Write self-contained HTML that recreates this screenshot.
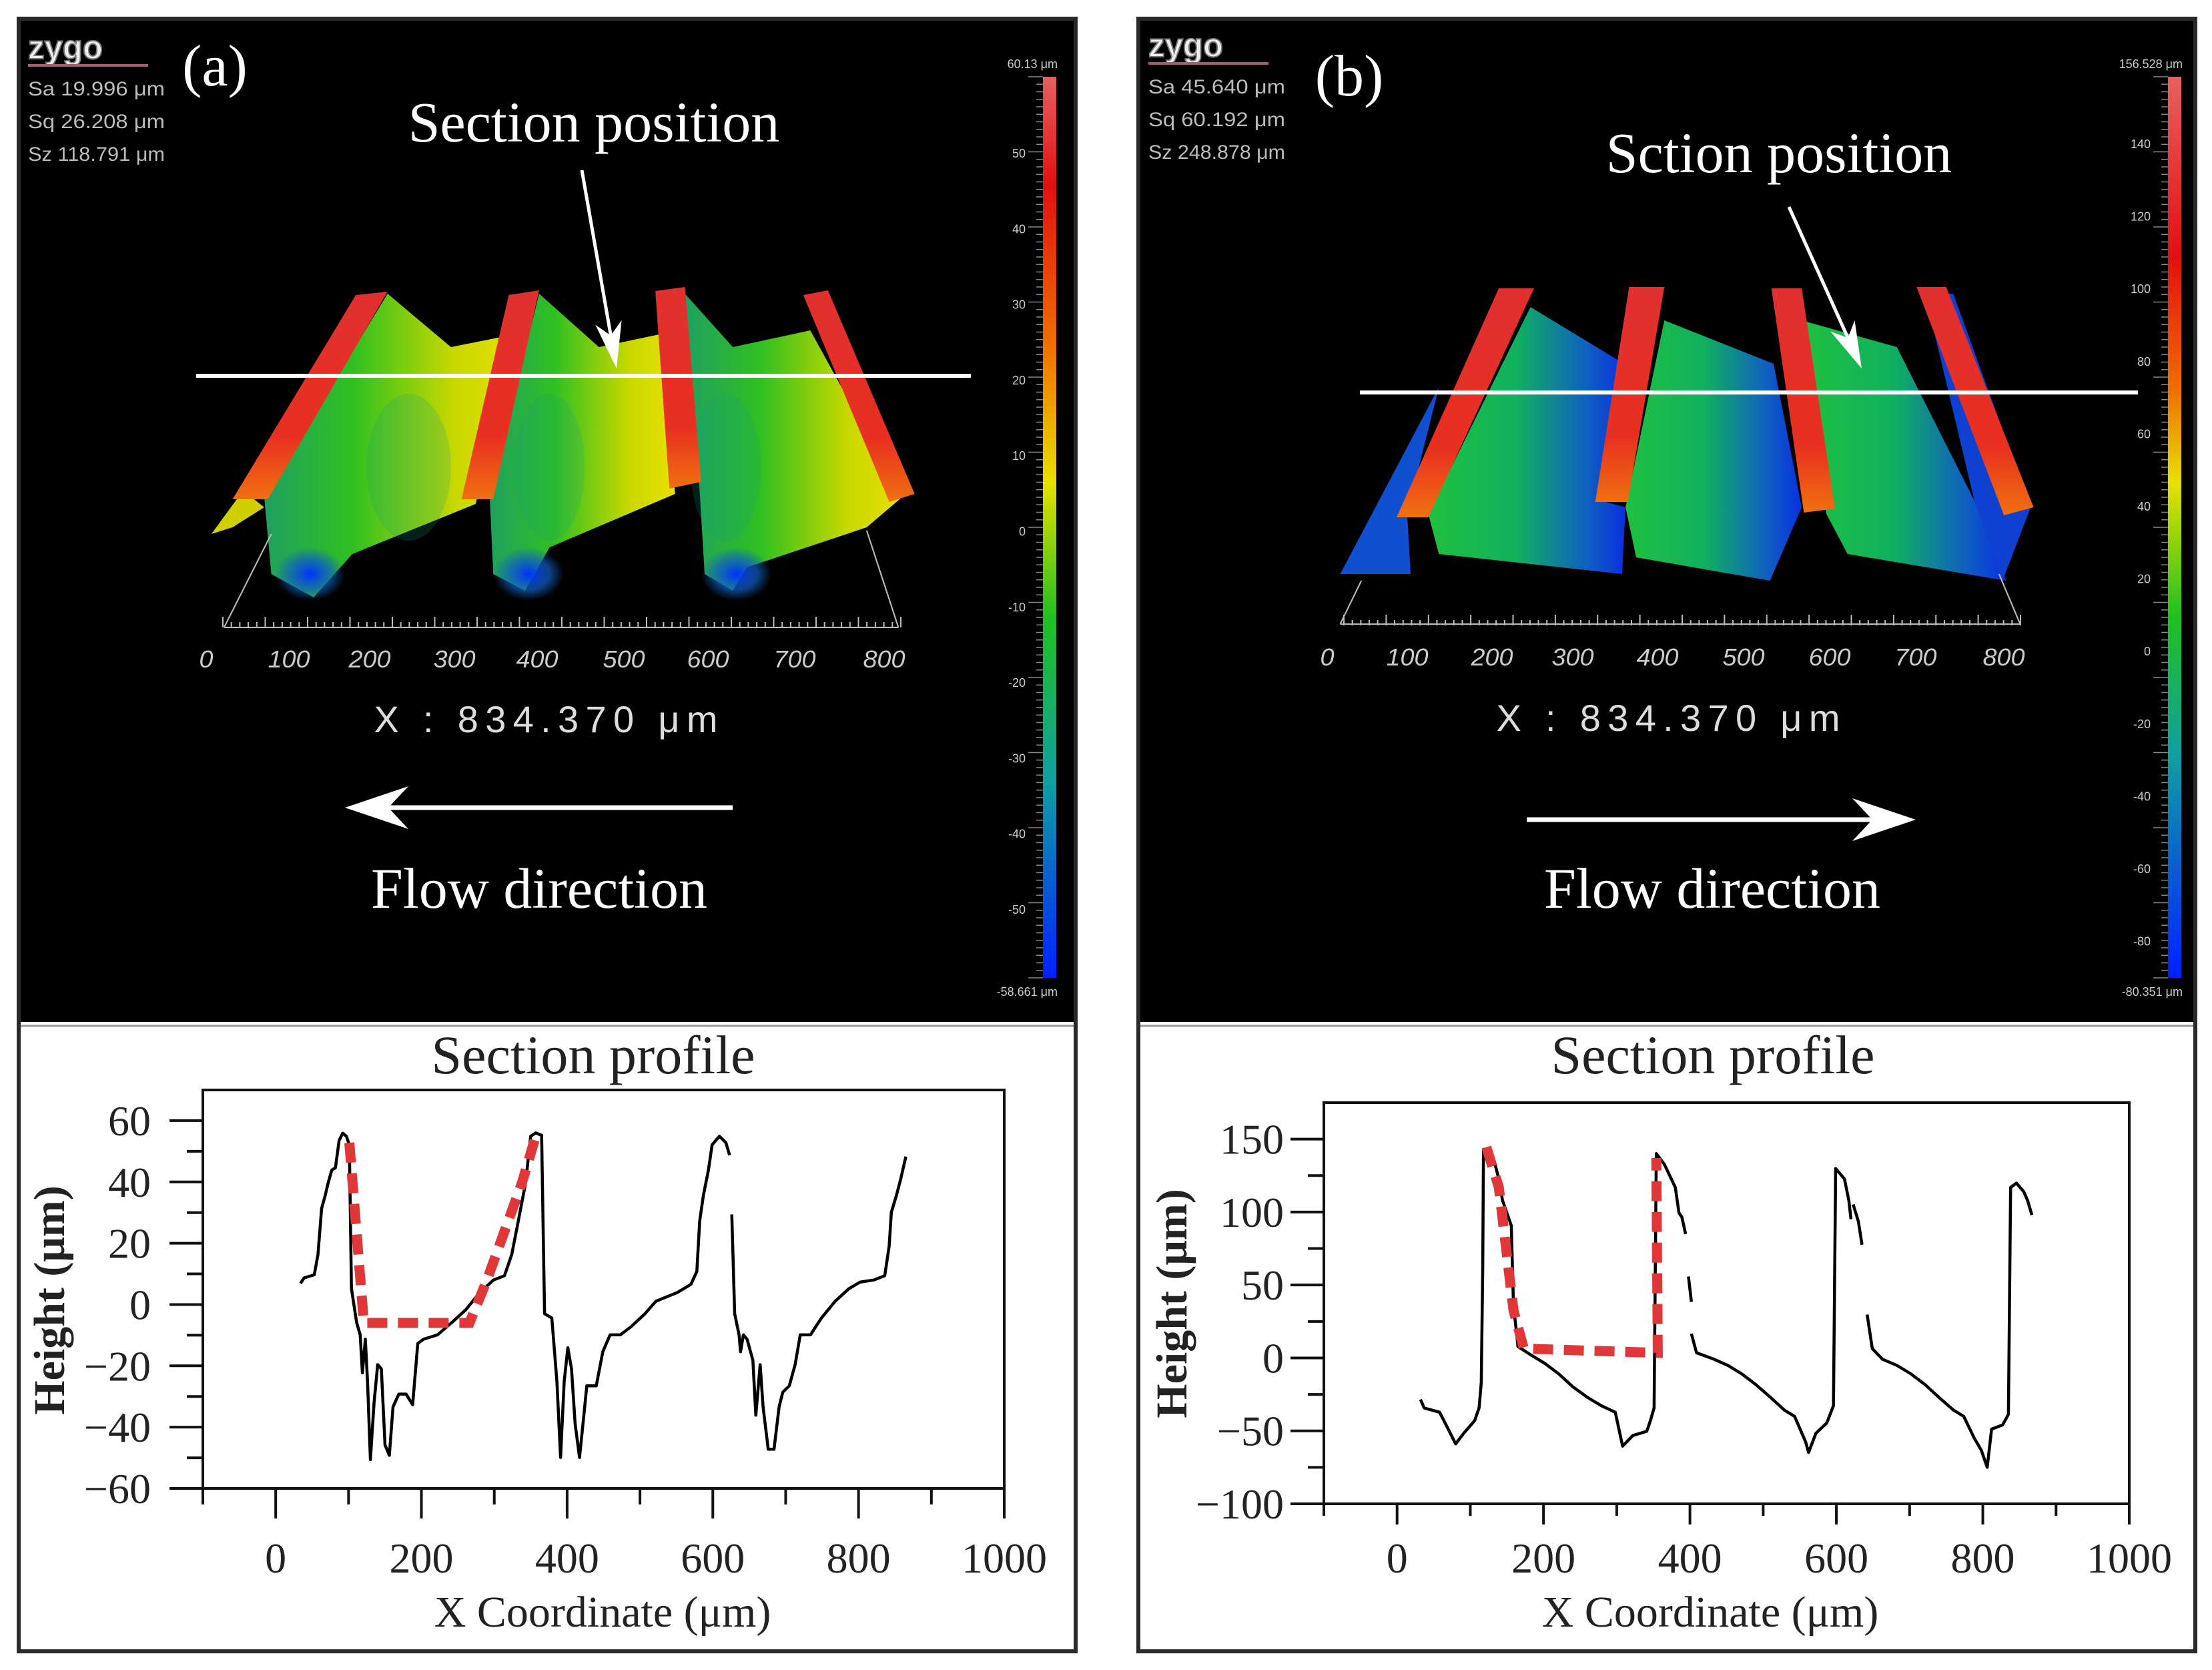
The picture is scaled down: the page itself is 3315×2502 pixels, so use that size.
<!DOCTYPE html>
<html><head><meta charset="utf-8"><style>
html,body{margin:0;padding:0;background:#fff}
svg{display:block}
.serif{font-family:"Liberation Serif",serif}
.sans{font-family:"Liberation Sans",sans-serif}
</style></head><body>
<svg id="fig" xmlns="http://www.w3.org/2000/svg" width="3315" height="2502" viewBox="0 0 3315 2502">
<defs>
<linearGradient id="cbA" x1="0" y1="0" x2="0" y2="1">
<stop offset="0" stop-color="#e86060"/><stop offset="0.12" stop-color="#e01010"/><stop offset="0.3" stop-color="#f07000"/><stop offset="0.45" stop-color="#e8e000"/><stop offset="0.6" stop-color="#20c020"/><stop offset="0.78" stop-color="#10a0a0"/><stop offset="1" stop-color="#0020ff"/></linearGradient>
<linearGradient id="cbB" x1="0" y1="0" x2="0" y2="1">
<stop offset="0" stop-color="#e86060"/><stop offset="0.2" stop-color="#e01010"/><stop offset="0.35" stop-color="#f07000"/><stop offset="0.45" stop-color="#e8e000"/><stop offset="0.6" stop-color="#20c020"/><stop offset="0.75" stop-color="#10a0a0"/><stop offset="1" stop-color="#0020ff"/></linearGradient>
<linearGradient id="segA" x1="0" y1="0" x2="1" y2="0">
<stop offset="0" stop-color="#20a060"/><stop offset="0.35" stop-color="#30c020"/><stop offset="0.75" stop-color="#c8d800"/><stop offset="1" stop-color="#e8e000"/></linearGradient>
<linearGradient id="segB" x1="0" y1="0" x2="1" y2="0">
<stop offset="0" stop-color="#20c040"/><stop offset="0.45" stop-color="#10b060"/><stop offset="0.8" stop-color="#1060c0"/><stop offset="1" stop-color="#0830e0"/></linearGradient>
<linearGradient id="ridge" x1="0" y1="0" x2="0" y2="1">
<stop offset="0" stop-color="#e03030"/><stop offset="0.7" stop-color="#e83020"/><stop offset="1" stop-color="#f07010"/></linearGradient>
<radialGradient id="blueBlob"><stop offset="0" stop-color="#0030ff"/><stop offset="0.6" stop-color="#1060c0" stop-opacity="0.7"/><stop offset="1" stop-color="#1060c0" stop-opacity="0"/></radialGradient>
</defs>

<rect x="28" y="28" width="1584" height="2446" fill="#fff" stroke="#2a2a2a" stroke-width="6"/>
<rect x="1706" y="28" width="1584" height="2446" fill="#fff" stroke="#2a2a2a" stroke-width="6"/>
<rect x="31" y="31" width="1578" height="1500" fill="#000"/>
<rect x="1709" y="31" width="1578" height="1500" fill="#000"/>
<line x1="31" y1="1537" x2="1609" y2="1537" stroke="#999" stroke-width="3"/>
<line x1="1709" y1="1537" x2="3287" y2="1537" stroke="#999" stroke-width="3"/>

<!-- Surface A -->
<g transform="scale(1.056,1)">
<polygon points="300,800 345,735 375,760 330,790" fill="#d0d000"/>
<polygon points="550,440 640,520 735,500 675,755 500,830 445,895 385,860 375,745" fill="url(#segA)"/>
<polygon points="765,440 850,520 940,500 958,740 780,820 745,885 700,860 695,745" fill="url(#segA)"/>
<polygon points="972,440 1040,520 1150,495 1280,745 1230,790 1060,850 1040,885 1000,860 992,720" fill="url(#segA)"/>
<ellipse cx="440" cy="860" rx="50" ry="40" fill="url(#blueBlob)"/>
<ellipse cx="750" cy="860" rx="50" ry="40" fill="url(#blueBlob)"/>
<ellipse cx="1045" cy="860" rx="50" ry="40" fill="url(#blueBlob)"/>
<ellipse cx="580" cy="700" rx="60" ry="110" fill="#10a080" opacity="0.2"/>
<ellipse cx="780" cy="700" rx="50" ry="110" fill="#10a080" opacity="0.2"/>
<ellipse cx="1030" cy="700" rx="50" ry="110" fill="#10a080" opacity="0.2"/>
<polygon points="505,442 550,437 380,748 330,748" fill="url(#ridge)"/>
<polygon points="722,442 765,435 700,748 655,748" fill="url(#ridge)"/>
<polygon points="930,436 972,430 995,722 950,732" fill="url(#ridge)"/>
<polygon points="1140,442 1175,435 1298,740 1262,752" fill="url(#ridge)"/>
<line x1="318" y1="940" x2="1275" y2="940" stroke="#bbb" stroke-width="2"/>
<line x1="1230" y1="795" x2="1275" y2="940" stroke="#bbb" stroke-width="2"/>
<line x1="318" y1="940" x2="385" y2="800" stroke="#bbb" stroke-width="2"/>
</g>
<!-- Surface B -->
<g transform="translate(1660,0) scale(1.056,1)">
<polygon points="470,580 330,860 430,860 425,770" fill="#1050d0"/>
<polygon points="600,460 725,540 700,750 735,760 730,860 470,830 455,770" fill="url(#segB)"/>
<polygon points="790,480 945,545 985,760 940,870 750,835 735,760" fill="url(#segB)"/>
<polygon points="985,480 1120,520 1230,750 1275,870 1050,830 1020,770" fill="url(#segB)"/>
<polygon points="1160,440 1200,440 1310,760 1270,870 1230,750" fill="#1040d0"/>
<polygon points="555,432 605,432 455,775 410,775" fill="url(#ridge)"/>
<polygon points="740,430 790,430 738,752 692,752" fill="url(#ridge)"/>
<polygon points="942,432 985,432 1032,762 988,768" fill="url(#ridge)"/>
<polygon points="1148,430 1190,430 1314,760 1272,772" fill="url(#ridge)"/>
<line x1="330" y1="935" x2="1295" y2="935" stroke="#bbb" stroke-width="2"/>
<line x1="1265" y1="860" x2="1295" y2="935" stroke="#bbb" stroke-width="2"/>
<line x1="330" y1="935" x2="360" y2="870" stroke="#bbb" stroke-width="2"/>
</g>

<g id="top-texts"></g>
<g id="plotA"></g>
<g id="plotB"></g>
</svg>
<script>
const NS = "http://www.w3.org/2000/svg";
const svg = document.getElementById('fig');
function mk(tag, attrs, parent, txt){
  const e = document.createElementNS(NS, tag);
  for (const k in attrs) e.setAttribute(k, attrs[k]);
  if (txt !== undefined) e.textContent = txt;
  (parent || svg).appendChild(e);
  return e;
}
// ---------- Data ----------
const topAxisLabels = ["0","100","200","300","400","500","600","700","800"];
const cbTicksA = [50,40,30,20,10,0,-10,-20,-30,-40,-50];
const cbTicksB = [140,120,100,80,60,40,20,0,-20,-40,-60,-80];
const statsA = ["Sa 19.996  \u03bcm","Sq 26.208  \u03bcm","Sz 118.791 \u03bcm"];
const statsB = ["Sa 45.640  \u03bcm","Sq 60.192  \u03bcm","Sz 248.878 \u03bcm"];

const xTicks = [0,200,400,600,800,1000];
const yTicksA = [60,40,20,0,-20,-40,-60];
const yTicksB = [150,100,50,0,-50,-100];

const profileAX = [34,39,53,58,63,68,72,77,82,87,92,97,101,104,111,116,119,123,126,130,135,140,145,150,156,161,169,179,188,195,203,222,242,261,280,299,314,324,333,343,350,357,365,369,379,386,391,396,401,406,411,417,423,427,440,449,459,473,488,507,522,551,570,578,582,587,594,599,609,618,623,null,626,630,636,638,642,647,655,659,665,669,676,684,691,696,705,713,720,734,749,768,787,802,821,836,842,845,852,858,865];
const profileAY = [6.9,8.7,9.7,16.3,31.4,35.6,39.7,43.9,44.6,53.5,55.9,54.9,52.1,5.2,-5.8,-9.9,-22.3,-11.3,-25.1,-50.6,-32,-19.6,-21,-45.8,-49.2,-33.4,-29.2,-29.2,-32.7,-12.7,-11.3,-9.9,-5.8,-1.7,3.9,8,9.4,16.3,27.3,39.7,54.9,56,55.2,-3,-4.4,-25.1,-49.9,-25.1,-14.1,-21,-38.9,-49.9,-36.1,-26.5,-26.5,-15.4,-9.9,-9.9,-7.2,-3,1.1,3.9,6.6,10.8,27.3,35.6,43.9,52.1,54.9,52.8,48.7,null,29.4,-3,-9.9,-15.4,-9.9,-11.3,-18.2,-36.1,-19.6,-33.4,-47.2,-47.2,-33.4,-28.6,-26.5,-19.6,-9.9,-9.9,-4.4,1.1,5.2,7.3,8,9.4,19,30.1,35.6,41.1,48.3];
const guideAX = [101,121,266,290,338,357];
const guideAY = [52.8,-6,-6,8,39.7,55];

const profileBX = [32,37,58,67,80,91,106,112,115,117,118,125,133,139,144,152,156,159,163,165,183,202,221,240,260,279,298,308,322,341,346,351,354,365,380,385,389,394,null,398,402,null,402,409,433,452,471,490,510,529,543,558,562,572,587,596,599,611,617,620,null,623,630,635,null,642,649,663,683,702,721,740,760,774,788,798,806,812,827,835,838,846,856,861,867];
const profileBY = [-28.5,-34.3,-37.2,-45.9,-58.9,-51.7,-43,-34.3,-16.9,61.6,143,141.6,134.3,122.7,108.1,96.5,90.7,35.5,18,7.8,2,-3.8,-11,-19.8,-27,-32.8,-37.2,-60.5,-53.2,-50.3,-43,-34.3,140.1,132.8,116.9,99.4,96.5,84.9,null,55.8,38.4,null,16.6,3.5,-0.9,-5.2,-11,-18.3,-27,-35.8,-40.1,-57.6,-64.8,-51.7,-44.5,-32.8,129.9,122.7,108.1,95.1,null,105.2,93.6,77.6,null,29.7,6.4,-0.9,-5.2,-11,-18.3,-27,-35.8,-40.1,-54.7,-63.4,-75,-48.8,-45.9,-38.7,116.9,119.8,113.9,108.1,98];
const guideBX = [122,139,159,173,356,354];
const guideBY = [144.5,117,32.6,6.4,3.5,137];

// ---------- Top panel texts ----------
const tt = document.getElementById('top-texts');
function topPanel(ox, cfg){
  const g = mk('g', {}, tt);
  
  
  const tx = ox + cfg.tx;
  let t = mk('text', {x: tx, y: cfg.logoY, fill:'#eee', stroke:'#777', 'stroke-width':2, 'font-size':50, 'font-weight':'bold', class:'sans', textLength:112, lengthAdjust:'spacingAndGlyphs'}, g, 'zygo');
   
  mk('line', {x1: tx, y1: cfg.logoY+10, x2: tx+180, y2: cfg.logoY+10, stroke:'#a06070', 'stroke-width':4}, g);
  cfg.stats.forEach((s, i) => {
    const e = mk('text', {x: tx, y: cfg.statY + i*49, fill:'#bbb', 'font-size':30, class:'sans', textLength:205, lengthAdjust:'spacingAndGlyphs'}, g, s);
     
  });
  t = mk('text', {x: cfg.labelX, y: cfg.labelY, fill:'#fff', 'font-size':88, class:'serif', 'text-anchor':'middle'}, g, cfg.label);
   
  t = mk('text', {x: cfg.secX, y: cfg.secY, fill:'#fff', 'font-size':86, class:'serif', 'text-anchor':'middle'}, g, cfg.secText);
   
  const a = cfg.secArrow;
  const dx = a[2]-a[0], dy = a[3]-a[1], L = Math.hypot(dx,dy), ux = dx/L, uy = dy/L;
  mk('line', {x1:a[0], y1:a[1], x2:a[2]-ux*40, y2:a[3]-uy*40, stroke:'#fff', 'stroke-width':5}, g);
  const ar = mk('polygon', {points: `${a[2]},${a[3]} ${a[2]-ux*70-uy*20},${a[3]-uy*70+ux*20} ${a[2]-ux*50},${a[3]-uy*50} ${a[2]-ux*70+uy*20},${a[3]-uy*70-ux*20}`, fill:'#fff'}, g);
   
  const sl = mk('line', {x1:cfg.line[0], y1:cfg.line[2], x2:cfg.line[1], y2:cfg.line[2], stroke:'#fff', 'stroke-width':6}, g);
   
  topAxisLabels.forEach((s, i) => {
    const e = mk('text', {x: cfg.axX[i], y: cfg.axY, fill:'#ccc', 'font-size':36, 'font-style':'italic', class:'sans', 'text-anchor':'middle', textLength: s.length*21, lengthAdjust:'spacingAndGlyphs'}, g, s);
     
  });
  for (let k = 0; k <= 80; k++) {
    const x = cfg.axX[0] + 25 + (cfg.axX[8]-cfg.axX[0])*k/80;
    mk('line', {x1:x, y1:cfg.axY-60, x2:x, y2:cfg.axY-60+(k%5===0?-16:-8), stroke:'#bbb', 'stroke-width':2}, g);
  }
  t = mk('text', {x: cfg.xLab[0], y: cfg.xLab[1], fill:'#ddd', 'font-size':56, class:'sans', 'text-anchor':'middle', textLength:515, lengthAdjust:'spacing'}, g, 'X : 834.370 \u03bcm');
   
  const f = cfg.flow; const dir = Math.sign(f[1]-f[0]);
  mk('line', {x1:f[0], y1:f[2], x2:f[1]-dir*60, y2:f[2], stroke:'#fff', 'stroke-width':7}, g);
  const fa = mk('polygon', {points:`${f[1]},${f[2]} ${f[1]-dir*95},${f[2]-32} ${f[1]-dir*65},${f[2]} ${f[1]-dir*95},${f[2]+32}`, fill:'#fff'}, g);
   
  t = mk('text', {x: cfg.flowLab[0], y: cfg.flowLab[1], fill:'#fff', 'font-size':86, class:'serif', 'text-anchor':'middle'}, g, 'Flow direction');
   
  const cb = mk('rect', {x: cfg.cbX, y: 115, width: 20, height: 1350, fill: cfg.cbFill}, g);
   
  for (let k = 0; k <= 120; k++) mk('line', {x1:cfg.cbX-(k%10===0?22:10), y1:115+k*11.25, x2:cfg.cbX, y2:115+k*11.25, stroke:'#888', 'stroke-width':1.5}, g);
  cfg.cbTicks.forEach((v, i) => {
    const y = cfg.cbY0 + i*cfg.cbStep;
    const e = mk('text', {x: cfg.cbX-26, y: y+6, fill:'#ccc', 'font-size':18, class:'sans', 'text-anchor':'end'}, g, String(v));
     
  });
  mk('text', {x: cfg.cbX+22, y: 102, fill:'#ccc', 'font-size':18, class:'sans', 'text-anchor':'end'}, g, cfg.cbTop);
  mk('text', {x: cfg.cbX+22, y: 1492, fill:'#ccc', 'font-size':18, class:'sans', 'text-anchor':'end'}, g, cfg.cbBot);
}
topPanel(0, {name:'panel-a-header', tx:42, logoY:88, stats:statsA, statY:143, label:'(a)', labelX:322, labelY:128,
  secText:'Section position', secX:890, secY:212, secArrow:[872,255,924,552], line:[294,1455,563],
  axX:[309,433,554,681,805,935,1061,1191,1325], axY:1000, xLab:[818,1097], flow:[1098,517,1210], flowLab:[808,1360],
  cbX:1563, cbFill:'url(#cbA)', cbTicks:cbTicksA, cbY0:230, cbStep:113.3, cbTop:'60.13 \u03bcm', cbBot:'-58.661 \u03bcm'});
topPanel(1660, {name:'panel-b-header', tx:61, logoY:85, stats:statsB, statY:140, label:'(b)', labelX:2022, labelY:143,
  secText:'Sction position', secX:2666, secY:258, secArrow:[2681,310,2790,552], line:[2038,3204,588],
  axX:[1989,2109,2236,2357,2484,2613,2742,2871,3003], axY:997, xLab:[2500,1095], flow:[2288,2871,1228], flowLab:[2566,1360],
  cbX:3249, cbFill:'url(#cbB)', cbTicks:cbTicksB, cbY0:216, cbStep:108.6, cbTop:'156.528 \u03bcm', cbBot:'-80.351 \u03bcm'});

// ---------- Profile plots ----------
function profilePlot(gid, geo, yTicks, minorY, xs, ys, gx, gy, name){
  const g = document.getElementById(gid);
  
  
  const X = v => geo.x0 + (v - geo.xmin) / (geo.xmax - geo.xmin) * (geo.x1 - geo.x0);
  const Y = v => geo.y1 - (v - geo.ymin) / (geo.ymax - geo.ymin) * (geo.y1 - geo.y0);
  const t0 = mk('text', {x: geo.titleX, y: 1608, 'font-size':82, class:'serif', 'text-anchor':'middle', fill:'#222'}, g, 'Section profile');
   
  const fr = mk('rect', {x: geo.x0, y: geo.y0, width: geo.x1-geo.x0, height: geo.y1-geo.y0, fill:'none', stroke:'#111', 'stroke-width':4}, g);
   
  for (let v = -100; v <= 1000; v += 100) {
    const major = v % 200 === 0;
    mk('line', {x1: X(v), y1: geo.y1, x2: X(v), y2: geo.y1 + (major ? geo.xMaj : geo.xMin), stroke:'#111', 'stroke-width':4}, g);
  }
  xTicks.forEach(v => {
    const e = mk('text', {x: X(v), y: 2356, 'font-size':64, class:'serif', 'text-anchor':'middle', fill:'#222'}, g, String(v));
     
  });
  minorY.forEach(v => mk('line', {x1: geo.x0 - 24, y1: Y(v), x2: geo.x0, y2: Y(v), stroke:'#111', 'stroke-width':4}, g));
  yTicks.forEach(v => {
    mk('line', {x1: geo.x0 - 50, y1: Y(v), x2: geo.x0, y2: Y(v), stroke:'#111', 'stroke-width':4}, g);
    const e = mk('text', {x: geo.yLabR, y: Y(v) + 22, 'font-size':64, class:'serif', 'text-anchor':'end', fill:'#222'}, g, String(v).replace('-', '\u2212'));
     
  });
  const xt = mk('text', {x: geo.xTitleX, y: 2437, 'font-size':66, class:'serif', 'text-anchor':'middle', fill:'#222'}, g, 'X Coordinate (\u03bcm)');
   
  const yt = mk('text', {x: 0, y: 0, 'font-size':66, 'font-weight':'bold', class:'serif', 'text-anchor':'middle', fill:'#222', transform:`translate(${geo.yTitleX},${geo.yTitleY}) rotate(-90)`}, g, 'Height (\u03bcm)');
   
  let segs = [], cur = [];
  xs.forEach((x, i) => {
    if (x === null || ys[i] === null) { if (cur.length) segs.push(cur); cur = []; }
    else cur.push(X(x).toFixed(1) + ',' + Y(ys[i]).toFixed(1));
  });
  if (cur.length) segs.push(cur);
  segs.forEach(s => {
    const p = mk('polyline', {points: s.join(' '), fill:'none', stroke:'#000', 'stroke-width':4.5, 'stroke-linejoin':'round'}, g);
     
  });
  const gp = mk('polyline', {points: gx.map((x, i) => X(x).toFixed(1) + ',' + Y(gy[i]).toFixed(1)).join(' '), fill:'none', stroke:'#e03838', 'stroke-width':15, 'stroke-dasharray':'30 16'}, g);
   
}
profilePlot('plotA', {x0:304, x1:1505, y0:1633, y1:2230, xmin:-100, xmax:1000, ymin:-60, ymax:70, xMaj:45, xMin:24, yLabR:226, titleX:889, xTitleX:903, yTitleX:96, yTitleY:1948},
  yTicksA, [50,30,10,-10,-30,-50], profileAX, profileAY, guideAX, guideAY, 'profile-plot-a');
profilePlot('plotB', {x0:1984, x1:3191, y0:1652, y1:2253, xmin:-100, xmax:1000, ymin:-100, ymax:175, xMaj:31, xMin:18, yLabR:1924, titleX:2567, xTitleX:2563, yTitleX:1778, yTitleY:1953},
  yTicksB, [125,75,25,-25,-75], profileBX, profileBY, guideBX, guideBY, 'profile-plot-b');
</script>
</body></html>
